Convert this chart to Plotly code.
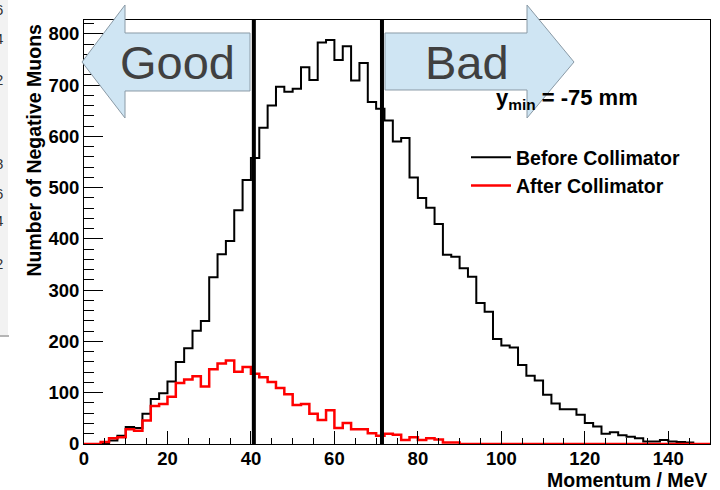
import plotly.graph_objects as go

# ---- data (2 MeV bins from 0 to 150 MeV) ----
bin_width = 2
before_collimator = [
    0, 0, 1, 7, 16, 33, 31, 59, 88, 99,
    122, 160, 187, 221, 240, 325, 370, 396, 456, 515,
    558, 617, 660, 697, 687, 693, 735, 710, 783, 788,
    749, 776, 709, 743, 667, 654, 631, 590, 597, 520,
    480, 461, 429, 369, 365, 343, 326, 275, 258, 205,
    192, 188, 154, 133, 124, 96, 79, 68, 68, 57,
    41, 34, 20, 23, 17, 14, 11, 5, 5, 8,
    5, 4, 3, 0, 0,
]
after_collimator = [
    0, 0, 4, 11, 13, 29, 26, 46, 74, 78,
    92, 119, 126, 132, 112, 146, 157, 163, 141, 150,
    137, 130, 121, 109, 97, 76, 78, 59, 47, 66,
    31, 41, 29, 29, 21, 16, 20, 18, 8, 13,
    8, 11, 9, 3, 3, 0, 0, 0, 0, 0,
    0, 0, 0, 0, 0, 0, 0, 0, 0, 0,
    0, 0, 0, 0, 0, 0, 0, 0, 0, 0,
    0, 0, 0, 0, 0,
]
cut_lines = [40.7, 71.4]  # MeV, vertical separators
x_range = [0, 150]
y_range = [0, 827]
series_names = ["Before Collimator", "After Collimator"]
side_digits = ["6", "4", "2", "8", "6", "4", "2"]

edges = [i * bin_width for i in range(len(before_collimator) + 1)]

W, H = 720, 490
L, R, T, B = 84, 10, 20, 46
PW, PH = W - L - R, H - T - B


def px(x):
    return (x - L) / PW


def py(y):
    return (H - B - y) / PH


FONT = "Liberation Sans, Arial, sans-serif"

fig = go.Figure()
fig.add_trace(go.Scatter(
    x=edges, y=before_collimator + [before_collimator[-1]],
    mode="lines", line=dict(shape="hv", color="black", width=2),
    name=series_names[0],
))
fig.add_trace(go.Scatter(
    x=edges, y=after_collimator + [after_collimator[-1]],
    mode="lines", line=dict(shape="hv", color="#ff0000", width=2.5),
    name=series_names[1],
))

shapes = []
for xc in cut_lines:
    shapes.append(dict(type="line", xref="x", yref="paper", x0=xc, x1=xc, y0=0, y1=1,
                       line=dict(color="black", width=4), layer="above"))


def arrow_path(points):
    s = "M " + " L ".join(f"{px(a):.5f},{py(b):.5f}" for a, b in points) + " Z"
    return s


good_pts = [(82, 62), (125, 5), (125, 33), (250, 33), (250, 91), (125, 91), (125, 118)]
bad_pts = [(574, 62), (527, 118), (527, 90), (385, 90), (385, 33), (527, 33), (527, 5)]
for pts in (good_pts, bad_pts):
    shapes.append(dict(type="path", xref="paper", yref="paper", path=arrow_path(pts),
                       fillcolor="#cfe5f3", line=dict(color="#8a9aa6", width=1), layer="above"))

# left gray strip (slide artifact)
shapes.append(dict(type="rect", xref="paper", yref="paper", x0=px(0), x1=px(8), y0=py(335), y1=py(0),
                   fillcolor="#f2f2f2", line=dict(width=0), layer="below"))
shapes.append(dict(type="line", xref="paper", yref="paper", x0=px(0), x1=px(9), y0=py(336), y1=py(336),
                   line=dict(color="#b5b5b5", width=2)))

annotations = [
    dict(text="Good", xref="paper", yref="paper", x=px(177), y=py(63), showarrow=False,
         font=dict(family=FONT, size=47, color="#404040"), xanchor="center", yanchor="middle"),
    dict(text="Bad", xref="paper", yref="paper", x=px(467), y=py(63), showarrow=False,
         font=dict(family=FONT, size=47, color="#404040"), xanchor="center", yanchor="middle"),
    dict(text="y<sub>min</sub> = -75 mm", xref="paper", yref="paper", x=px(494), y=py(99),
         showarrow=False, xanchor="left", yanchor="middle",
         font=dict(family=FONT, size=22, color="black", weight="bold")),
    dict(text="Number of Negative Muons", xref="paper", yref="paper", x=px(33), y=py(22),
         showarrow=False, textangle=-90, xanchor="center", yanchor="top",
         font=dict(family=FONT, size=19.5, color="black", weight="bold")),
    dict(text="Momentum / MeV", xref="paper", yref="paper", x=px(709), y=py(480),
         showarrow=False, xanchor="right", yanchor="middle",
         font=dict(family=FONT, size=19.5, color="black", weight="bold")),
]
for d, yy in zip(side_digits, [10, 39, 80, 163, 193, 220, 263]):
    annotations.append(dict(text=d, xref="paper", yref="paper", x=px(5), y=py(yy), showarrow=False,
                            xanchor="right", yanchor="middle",
                            font=dict(family=FONT, size=15, color="#333333")))

axis_common = dict(showline=True, linecolor="black", linewidth=1, mirror=True,
                   ticks="inside", tickcolor="black", showgrid=False, zeroline=False,
                   tickfont=dict(family=FONT, size=18.5, color="black", weight="bold"))

fig.update_layout(
    width=W, height=H,
    margin=dict(l=L, r=R, t=T, b=B),
    paper_bgcolor="white", plot_bgcolor="white",
    xaxis=dict(range=x_range, dtick=20, tick0=0, ticklen=12.7, ticklabelstandoff=-2,
               minor=dict(dtick=5, ticklen=6.4, ticks="inside", tickcolor="black"),
               **axis_common),
    yaxis=dict(range=y_range, dtick=100, tick0=0, ticklen=19,
               minor=dict(dtick=20, ticklen=9.5, ticks="inside", tickcolor="black"),
               **axis_common),
    showlegend=True,
    legend=dict(x=px(466), y=py(138), xanchor="left", yanchor="top",
                bgcolor="rgba(0,0,0,0)", itemwidth=40, tracegroupgap=0,
                font=dict(family=FONT, size=19.5, color="black", weight="bold")),
    shapes=shapes,
    annotations=annotations,
)

fig.write_html("out.html")
